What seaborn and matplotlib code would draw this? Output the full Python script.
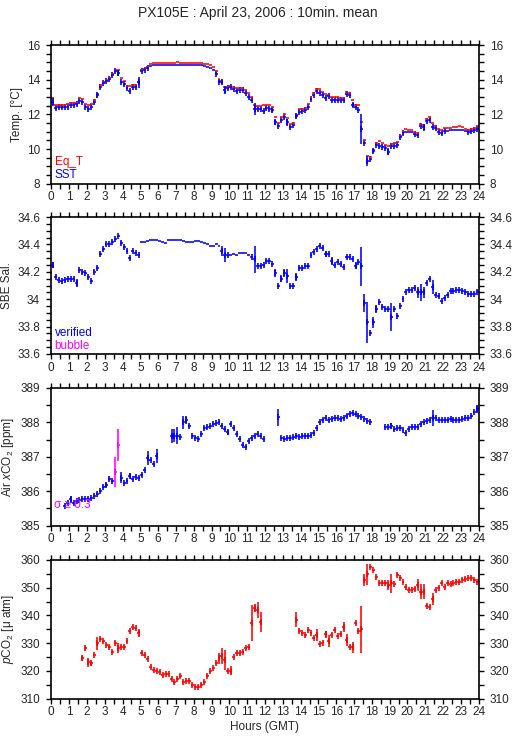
import numpy as np
import pandas as pd
import matplotlib
matplotlib.use("Agg")
import matplotlib.pyplot as plt
import seaborn as sns
from matplotlib.ticker import MultipleLocator, FuncFormatter

nan = np.nan

# 10 minute means, 144 per day (index 0 = 00:00-00:10)
sst = [
    12.72, 12.38, 12.40, 12.42, 12.42, 12.45, 12.52, 12.55, 12.58, 12.75, 12.72, 12.45,
    12.32, 12.42, 12.72, 13.10, 13.60, 13.78, 13.95, 14.05, 14.25, 14.50, 14.38, 13.88,
    13.75, 13.50, 13.35, 13.55, 13.55, 13.85, 14.50, 14.55, 14.68, 14.78, 14.82, 14.85,
    14.85, 14.85, 14.86, 14.86, 14.85, 14.87, 14.87, 14.86, 14.86, 14.86, 14.85, 14.85,
    14.85, 14.84, 14.82, 14.78, 14.72, 14.65, 14.55, 14.35, 13.88, 13.85, 13.40, 13.50,
    13.55, 13.45, 13.35, 13.40, 13.38, 13.25, 13.00, 12.85, 12.30, 12.28, 12.28, 12.22,
    12.35, 12.32, 12.25, 11.55, 11.30, 11.70, 11.85, 11.55, 11.25, 11.38, 11.90, 12.15,
    12.20, 12.25, 12.45, 12.90, 13.10, 13.35, 13.25, 13.10, 12.92, 13.05, 12.85, 12.85,
    12.82, 12.85, 12.80, 13.20, 13.12, 12.55, 12.40, 12.25, 11.15, 10.35, 9.30, 9.40,
    9.90, 10.25, 10.20, 10.10, 10.05, 9.85, 10.15, 10.15, 10.25, 10.70, 10.95, 11.00,
    11.00, 11.00, 10.85, 10.80, 11.30, 11.25, 11.60, 11.70, 11.25, 11.20, 11.00, 10.95,
    11.05, 11.05, 11.08, 11.10, 11.12, 11.12, 11.10, 11.05, 11.00, 11.05, 11.10, 11.15,
]
sst_err_idx = [0, 15, 22, 29, 55, 56, 57, 58, 68, 74, 75, 79, 82, 101, 104, 106, 108, 113, 125]
sst_err_val = [0.22, 0.15, 0.15, 0.32, 0.1, 0.1, 0.12, 0.22, 0.35, 0.12, 0.15, 0.2, 0.12,
               0.12, 0.85, 0.3, 0.12, 0.2, 0.22]
sst_smooth = [(33, 54), (119, 121), (133, 139)]

eq_t = [
    12.92, 12.52, 12.55, 12.55, 12.55, 12.58, 12.65, 12.65, 12.65, 12.92, 12.88, 12.62,
    12.55, 12.58, 12.82, 13.15, 13.72, 13.88, 14.00, 14.12, 14.35, 14.58, 14.58, 14.12,
    13.90, 13.65, 13.62, 13.72, 13.72, 13.85, 14.58, 14.62, 14.75, 14.90, 14.95, 14.98,
    14.98, 14.98, 14.95, 14.95, 14.95, 14.98, 15.02, 14.98, 14.98, 14.98, 14.98, 14.98,
    14.98, 14.98, 14.98, 14.92, 14.88, 14.82, 14.75, 14.50, 14.05, 13.95, 13.60, 13.60,
    13.65, 13.55, 13.52, 13.50, 13.52, 13.42, 13.22, 13.00, 12.55, 12.48, 12.48, 12.52,
    12.52, 12.52, 12.42, 11.82, 11.50, 11.85, 12.00, 11.80, 11.42, 11.48, 11.95, 12.28,
    12.32, 12.38, 12.60, 12.98, 13.25, 13.45, 13.45, 13.28, 13.15, 13.12, 13.00, 12.98,
    12.98, 12.92, 12.95, 13.28, 13.25, 12.82, 12.55, 12.55, 11.55, 10.50, 9.58, 9.52,
    9.95, 10.35, 10.45, 10.32, 10.25, 10.20, 10.30, 10.32, 10.38, 10.78, 11.05, 11.15,
    11.12, 11.12, 11.00, 10.92, 11.42, 11.38, 11.75, 11.85, 11.48, 11.32, 11.15, 11.10,
    11.20, 11.22, 11.22, 11.25, 11.25, 11.30, 11.25, 11.18, 11.12, 11.15, 11.20, 11.30,
]

sal = [
    34.25, 34.16, 34.14, 34.13, 34.14, 34.15, 34.15, 34.15, 34.12, 34.21, 34.20, 34.19,
    34.16, 34.13, 34.20, 34.23, 34.33, 34.37, 34.40, 34.40, 34.42, 34.44, 34.46, 34.41,
    34.38, 34.35, 34.30, 34.35, 34.34, 34.32, 34.42, 34.42, 34.425, 34.43, 34.43, 34.43,
    34.425, 34.42, 34.41, 34.43, 34.43, 34.43, 34.43, 34.43, 34.425, 34.42, 34.42, 34.42,
    34.425, 34.425, 34.42, 34.41, 34.40, 34.39, 34.385, 34.40, 34.385, 34.35, 34.325, 34.32,
    34.325, 34.33, 34.325, 34.34, 34.34, 34.34, 34.325, 34.31, 34.29, 34.245, 34.245, 34.25,
    34.28, 34.28, 34.26, 34.19, 34.10, 34.15, 34.19, 34.17, 34.10, 34.10, 34.16, 34.23,
    34.23, 34.24, 34.24, 34.32, 34.345, 34.365, 34.39, 34.375, 34.33, 34.33, 34.28, 34.25,
    34.27, 34.26, 34.235, 34.31, 34.31, 34.29, 34.245, 34.27, 34.24, 33.97, 33.83, 33.75,
    33.83, 33.93, 33.98, 33.94, 33.93, 33.93, 33.87, 33.93, 33.88, 33.95, 34.00, 34.05,
    34.07, 34.07, 34.08, 34.05, 34.05, 34.05, 34.12, 34.15, 34.09, 34.03, 34.02, 33.99,
    34.01, 34.03, 34.06, 34.06, 34.07, 34.07, 34.06, 34.05, 34.04, 34.04, 34.04, 34.05,
]
sal_err_idx = [0, 8, 57, 58, 68, 75, 77, 78, 79, 82, 92, 94, 102, 104, 105, 106, 108, 109,
               114, 123, 124, 125, 128]
sal_err_val = [0.02, 0.03, 0.035, 0.05, 0.1, 0.03, 0.025, 0.03, 0.05, 0.03, 0.025, 0.03,
               0.025, 0.14, 0.065, 0.15, 0.04, 0.03, 0.1, 0.04, 0.06, 0.04, 0.05]
sal_smooth = [(30, 56), (60, 66)]

xco2 = [
    nan, nan, nan, nan, 385.57, 385.65, 385.77, 385.67, 385.73, 385.75, 385.77, 385.78,
    385.78, 385.80, 385.85, 385.92, 386.00, 386.12, 386.18, 386.35, 386.30, 386.56, 387.35, 386.40,
    386.23, 386.30, 386.45, 386.35, 386.42, 386.38, 386.47, 386.62, 386.96, 386.91, 386.80, 387.03,
    nan, nan, nan, nan, 387.60, 387.62, 387.62, 387.58, 388.00, 388.08, 387.90, 387.60,
    387.55, 387.52, 387.67, 387.83, 387.86, 387.90, 387.95, 387.98, 388.00, 387.90, 387.80, 387.71,
    387.96, 387.83, 387.67, 387.52, 387.35, 387.28, 387.45, 387.55, 387.60, 387.67, 387.60, 387.53,
    nan, nan, nan, nan, 388.15, 387.55, 387.53, 387.55, 387.55, 387.57, 387.60, 387.58,
    387.60, 387.60, 387.62, 387.64, 387.70, 387.85, 388.00, 388.08, 388.13, 388.06, 388.10, 388.13,
    388.13, 388.10, 388.12, 388.18, 388.25, 388.27, 388.25, 388.20, 388.16, 388.10, 388.03, 388.00,
    nan, nan, nan, nan, 387.88, 387.86, 387.90, 387.80, 387.83, 387.83, 387.77, 387.70,
    387.80, 387.88, 387.88, 387.86, 387.96, 388.00, 388.03, 388.08, 388.13, 388.12, 388.08, 388.06,
    388.06, 388.08, 388.10, 388.06, 388.06, 388.08, 388.10, 388.12, 388.14, 388.20, 388.30, 388.38,
]
xco2_err_idx = [6, 18, 21, 22, 23, 26, 32, 35, 40, 41, 42, 44, 45, 59, 76, 114, 128, 143]
xco2_err_val = [0.1, 0.07, 0.43, 0.47, 0.17, 0.08, 0.2, 0.2, 0.2, 0.2, 0.25, 0.18, 0.12,
                0.08, 0.25, 0.08, 0.24, 0.12]

pco2 = [
    nan, nan, nan, nan, nan, nan, nan, nan, nan, nan, 324.5, 328.3,
    323.1, 322.7, 325.7, 330.0, 331.5, 330.8, 329.4, 328.8, 326.7, 330.0, 328.2, 328.5,
    328.5, 330.9, 334.5, 335.7, 335.4, 333.6, 326.3, 325.7, 324.2, 321.5, 320.3, 320.0,
    319.5, 318.5, 318.8, 318.9, 317.0, 316.1, 317.0, 318.2, 316.1, 316.5, 316.5, 315.0,
    314.1, 314.1, 315.0, 316.1, 318.2, 320.1, 320.9, 322.7, 324.5, 325.4, 324.0, 320.1,
    320.1, 324.9, 326.6, 326.6, 327.0, 328.2, 328.5, 337.4, 342.8, 342.0, 337.8, nan,
    nan, nan, nan, nan, nan, nan, nan, nan, nan, nan, 338.4, 334.5,
    333.8, 333.0, 334.8, 333.6, 331.8, 333.0, 329.7, 330.2, 333.2, 330.9, 333.0, 334.8,
    332.6, 333.3, 336.0, 331.2, 328.5, 328.5, 337.4, 334.5, 335.0, 352.8, 354.8, 357.6,
    356.4, 353.8, 351.8, 351.8, 351.6, 351.0, 351.6, 351.3, 354.6, 353.4, 351.9, 350.4,
    349.2, 349.2, 349.4, 351.0, 348.6, 348.6, 343.5, 342.9, 345.9, 349.2, 349.8, 351.6,
    350.4, 351.8, 351.3, 351.8, 352.2, 352.2, 352.8, 353.1, 353.4, 353.4, 352.8, 351.9,
]
pco2_err_idx = [10, 12, 13, 15, 22, 29, 56, 57, 58, 60, 67, 68, 69, 70, 82, 89, 92, 93, 98,
                99, 101, 104, 105, 106, 113, 114, 123, 124, 125, 128]
pco2_err_val = [0.85, 1.6, 0.9, 2.3, 1.8, 1.5, 1.9, 3.0, 3.5, 1.6, 6.5, 1.5, 3.0, 3.6, 2.7,
                2.1, 1.3, 2.2, 1.8, 2.2, 2.1, 8.5, 2.0, 3.7, 1.8, 3.5, 2.2, 2.7, 2.7, 2.3]

hours = np.arange(144) / 6 + 1 / 12

BLUE, RED, MAGENTA = "#0000ff", "#ff0000", "#ff00ff"

sns.set_theme(style="ticks")
plt.rcParams["font.family"] = ["Liberation Sans", "DejaVu Sans"]
plt.rcParams["mathtext.fontset"] = "custom"
plt.rcParams["mathtext.rm"] = "Liberation Sans"
plt.rcParams["mathtext.it"] = "Liberation Sans:italic"
FS = 8.5


def frame(values, idx, val, smooth=()):
    err = np.zeros(144)
    err[idx] = val
    tick = np.ones(144, dtype=bool)
    for a, b in smooth:
        tick[a:b + 1] = False
    return pd.DataFrame({"h": hours, "v": values, "e": err, "tick": tick}).dropna()


def draw(ax, df, color, ticks=True):
    ax.errorbar(df.h, df.v, xerr=1 / 12, yerr=df.e, fmt="none", ecolor=color,
                elinewidth=1.15, capsize=0)
    if ticks:
        sns.scatterplot(data=df[df.tick], x="h", y="v", marker="|", s=16, color=color,
                        linewidth=1.2, ax=ax, legend=False)


def style(ax, lo, hi, major, minor, label, fmt="%g"):
    ax.set_xlim(0, 24)
    ax.set_ylim(lo, hi)
    ax.xaxis.set_major_locator(MultipleLocator(1))
    ax.xaxis.set_minor_locator(MultipleLocator(0.5))
    ax.yaxis.set_major_locator(MultipleLocator(major))
    ax.yaxis.set_minor_locator(MultipleLocator(minor))
    ax.yaxis.set_major_formatter(FuncFormatter(lambda v, p: fmt % v))
    ax.tick_params(which="both", direction="out", top=True, right=True, labelright=True,
                   length=3.6, width=1.0, labelsize=FS, color="black")
    ax.tick_params(axis="y", pad=4.5)
    ax.tick_params(axis="x", pad=2.0)
    for s in ax.spines.values():
        s.set_linewidth(1.2)
        s.set_color("black")
    ax.set_ylabel(label, fontsize=FS, labelpad=3)
    ax.set_xlabel("")


fig = plt.figure(figsize=(5.15, 7.39), dpi=100)
left, width = 51.3 / 515, 427.4 / 515
boxes = [(45, 183.7), (217, 354), (388, 525.7), (560, 698.7)]
axes = [fig.add_axes([left, 1 - b / 739, width, (b - t) / 739]) for t, b in boxes]

# temperature
ax = axes[0]
draw(ax, frame(eq_t, [], []), RED, ticks=False)
draw(ax, frame(sst, sst_err_idx, sst_err_val, sst_smooth), BLUE)
style(ax, 8, 16, 2, 0.5, "Temp. [°C]")
ax.text(0.008, 0.135, "Eq_T", color=RED, fontsize=FS, transform=ax.transAxes)
ax.text(0.008, 0.04, "SST", color=BLUE, fontsize=FS, transform=ax.transAxes)

# salinity
ax = axes[1]
draw(ax, frame(sal, sal_err_idx, sal_err_val, sal_smooth), BLUE)
style(ax, 33.6, 34.6, 0.2, 0.05, "SBE Sal.")
ax.text(0.008, 0.13, "verified", color=BLUE, fontsize=FS, transform=ax.transAxes)
ax.text(0.008, 0.036, "bubble", color=MAGENTA, fontsize=FS, transform=ax.transAxes)

# air xCO2, sigma >= 0.3 in magenta
ax = axes[2]
dfx = frame(xco2, xco2_err_idx, xco2_err_val)
draw(ax, dfx[dfx.e < 0.3], BLUE)
draw(ax, dfx[dfx.e >= 0.3], MAGENTA)
style(ax, 385, 389, 1, 0.5, "Air $x$CO$_2$ [ppm]")
ax.text(0.006, 0.13, "σ ≥ 0.3", color=MAGENTA, fontsize=FS, transform=ax.transAxes)

# pCO2
ax = axes[3]
draw(ax, frame(pco2, pco2_err_idx, pco2_err_val), RED)
style(ax, 310, 360, 10, 5, "$p$CO$_2$ [μ atm]")
ax.set_xlabel("Hours (GMT)", fontsize=FS, labelpad=2)

fig.text(0.5, 1 - 13 / 739, "PX105E : April 23, 2006 : 10min. mean", ha="center",
         va="center", fontsize=10)

fig.savefig("out.png", dpi=100)
